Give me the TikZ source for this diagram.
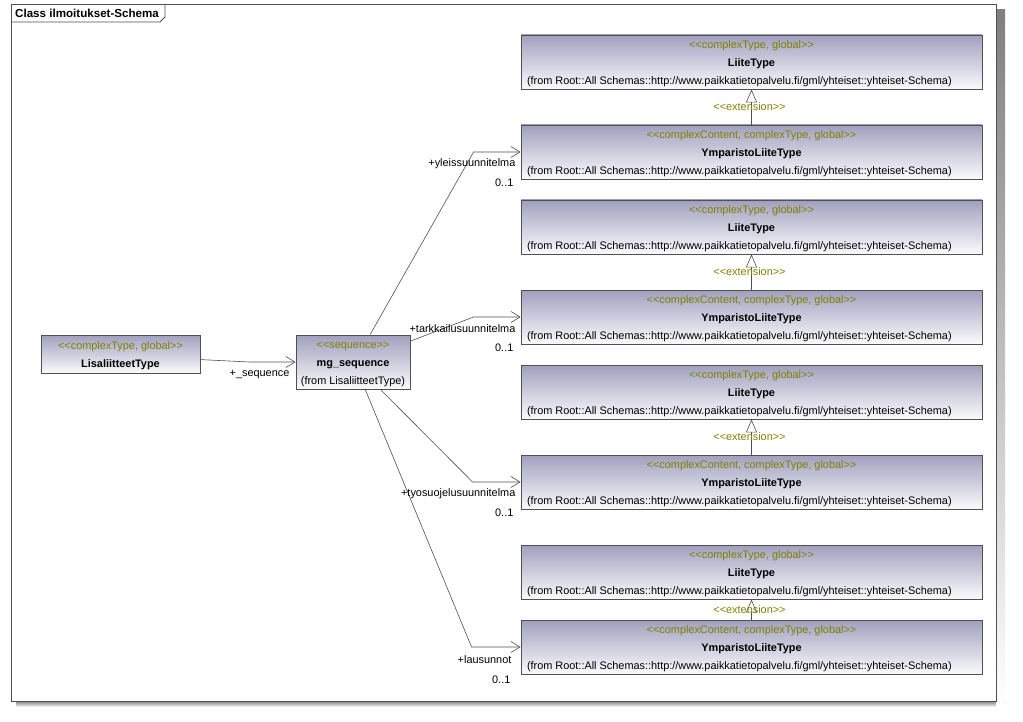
\documentclass[tikz,border=0pt]{standalone}
\usepackage{fontspec}
\setmainfont{Liberation Sans}
\usetikzlibrary{arrows.meta,positioning}
\definecolor{boxtop}{RGB}{160,160,190}
\definecolor{boxbot}{RGB}{250,250,253}
\definecolor{stereo}{RGB}{128,128,0}
\definecolor{edge}{RGB}{80,80,80}
\definecolor{shade}{RGB}{192,192,192}
\newcommand\sopen{<\kern0pt<}
\newcommand\sclose{>\kern0pt>}
\newcommand\stereotype[1]{\rule{0pt}{12pt}\textcolor{stereo}{\sopen #1\sclose}}
\newcommand\fromschema{\makebox[449pt][l]{(from Root::All Schemas::http://www.paikkatietopalvelu.fi/gml/yhteiset::yhteiset-Schema)}}

\begin{document}
\begin{tikzpicture}[x=1pt,y=-1pt,
  cls/.style={draw=edge,line width=0.9pt,top color=boxtop,bottom color=boxbot,
    minimum width=461pt,minimum height=54pt,inner sep=0pt,align=center,
    font=\fontsize{10.9}{18}\selectfont},
  assoc/.style={draw=edge,line width=0.6pt,-{Straight Barb[length=9pt,width=11pt]}},
  ext/.style={draw=edge,line width=0.6pt,-{Triangle[open,length=13pt,width=11pt,fill=white]}},
  role/.style={inner sep=0pt,font=\fontsize{10.9}{13}\selectfont},
  extlabel/.style={inner sep=0pt,text=stereo,font=\fontsize{10.9}{13}\selectfont}]
  % page and frame
  \fill[white] (0,0) rectangle (1023,722);
  \useasboundingbox (0,0) rectangle (1023,722);
  \fill[shade] (16,701) rectangle (1005,707);
  \fill[shade] (996,10) rectangle (1005,707);
  \draw[edge,line width=1pt,fill=white] (11,5) rectangle (996,701);
  \draw[edge,line width=0.8pt] (11,22) -- (160,22) -- (165,17) -- (165,5);
  \node[anchor=west,inner sep=0pt,font=\bfseries\fontsize{11.6}{13}\selectfont] (title) at (15,13.5) {Class ilmoitukset-Schema};

  % classes
  \node[cls,minimum width=159pt,minimum height=38pt] (lisa) at (120.5,354)
    {\stereotype{complexType, global}\\\textbf{LisaliitteetType}};
  \node[cls,minimum width=114pt] (seq) at (353,362)
    {\stereotype{sequence}\\\textbf{mg\_sequence}\\(from LisaliitteetType)};

  \node[cls] (liite1) at (751.5,62)
    {\stereotype{complexType, global}\\\textbf{LiiteType}\\\fromschema};
  \node[cls] (ymp1) at (751.5,152)
    {\stereotype{complexContent, complexType, global}\\\textbf{YmparistoLiiteType}\\\fromschema};
  \node[cls] (liite2) at (751.5,227)
    {\stereotype{complexType, global}\\\textbf{LiiteType}\\\fromschema};
  \node[cls] (ymp2) at (751.5,317)
    {\stereotype{complexContent, complexType, global}\\\textbf{YmparistoLiiteType}\\\fromschema};
  \node[cls] (liite3) at (751.5,392)
    {\stereotype{complexType, global}\\\textbf{LiiteType}\\\fromschema};
  \node[cls] (ymp3) at (751.5,482)
    {\stereotype{complexContent, complexType, global}\\\textbf{YmparistoLiiteType}\\\fromschema};
  \node[cls] (liite4) at (751.5,572)
    {\stereotype{complexType, global}\\\textbf{LiiteType}\\\fromschema};
  \node[cls] (ymp4) at (751.5,647)
    {\stereotype{complexContent, complexType, global}\\\textbf{YmparistoLiiteType}\\\fromschema};

  % extensions
  \draw[ext] (ymp1.north) -- node[extlabel,xshift=-2pt] (ext1) {\sopen extension\sclose} (liite1.south);
  \draw[ext] (ymp2.north) -- node[extlabel,xshift=-2pt] (ext2) {\sopen extension\sclose} (liite2.south);
  \draw[ext] (ymp3.north) -- node[extlabel,xshift=-2pt] (ext3) {\sopen extension\sclose} (liite3.south);
  \draw[ext] (ymp4.north) -- node[extlabel,xshift=-2pt] (ext4) {\sopen extension\sclose} (liite4.south);

  % associations
  \draw[assoc] (lisa.-4) -- ([xshift=-46pt]seq.west) -- (seq.west);
  \node[role,anchor=east] (rseq) at ([shift={(-6,12)}]seq.west) {+\_sequence};
  \draw[assoc] (seq.58) -- ([xshift=-47pt]ymp1.west) -- (ymp1.west);
  \draw[assoc] (seq.20) -- ([xshift=-47pt]ymp2.west) -- (ymp2.west);
  \draw[assoc] (seq.-45) -- ([xshift=-48pt]ymp3.west) -- (ymp3.west);
  \draw[assoc] (seq.-66) -- ([xshift=-49pt]ymp4.west) -- (ymp4.west);
  \node[role,anchor=east] (r1) at ([shift={(-5,12)}]ymp1.west) {+yleissuunnitelma};
  \node[role,anchor=east] (m1) at ([shift={(-7,31)}]ymp1.west) {0..1};
  \node[role,anchor=east] (r2) at ([shift={(-5,12)}]ymp2.west) {+tarkkailusuunnitelma};
  \node[role,anchor=east] (m2) at ([shift={(-7,31)}]ymp2.west) {0..1};
  \node[role,anchor=east] (r3) at ([shift={(-5,12)}]ymp3.west) {+tyosuojelusuunnitelma};
  \node[role,anchor=east] (m3) at ([shift={(-7,31)}]ymp3.west) {0..1};
  \node[role,anchor=east] (r4) at ([shift={(-9,13)}]ymp4.west) {+lausunnot};
  \node[role,anchor=east] (m4) at ([shift={(-10,33)}]ymp4.west) {0..1};
\end{tikzpicture}
\end{document}
